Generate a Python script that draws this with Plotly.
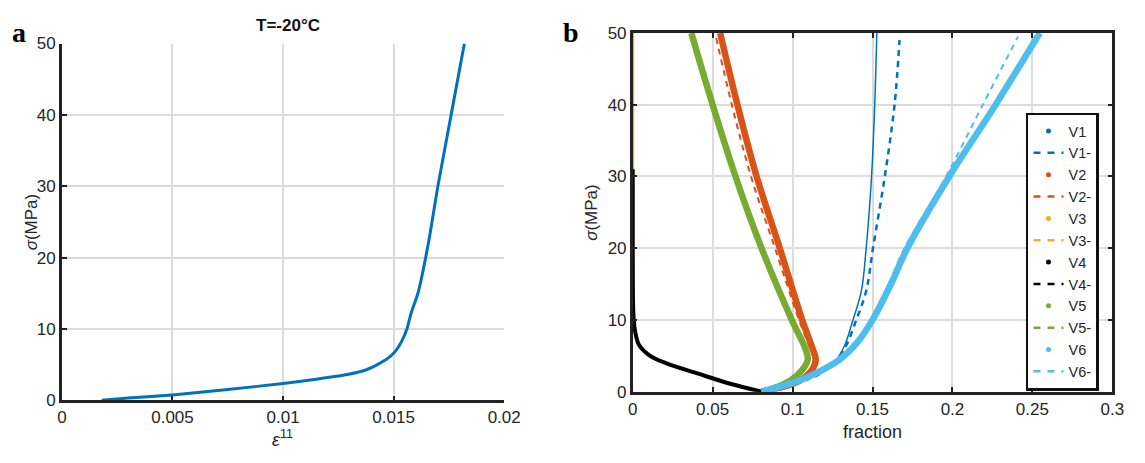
import plotly.graph_objects as go

W, H = 1145, 463

# ---------------- data ----------------
# panel a : stress-strain at T=-20°C
eps11 = [0.0018, 0.003, 0.005, 0.0075, 0.010, 0.0115, 0.0129, 0.0137, 0.0142, 0.0147, 0.0150,
         0.0152, 0.0154, 0.0156, 0.0158, 0.0161, 0.0166, 0.0170, 0.0176, 0.0182]
sigma_a = [0, 0.3, 0.75, 1.5, 2.35, 2.95, 3.6, 4.2, 4.9, 5.8, 6.6,
           7.4, 8.5, 10, 12.3, 15, 22.5, 30, 40, 50]

# panel b : volume fractions vs stress
v1_frac = [0.0806, 0.095, 0.108, 0.118, 0.1265, 0.1327, 0.1375, 0.1430, 0.1460, 0.1494, 0.1514, 0.1527]
v1_sig = [0, 0.8, 1.6, 2.6, 4.2, 6.5, 9.8, 14, 19.9, 30, 40, 50]
v1m_frac = [0.0806, 0.095, 0.108, 0.118, 0.127, 0.1337, 0.1395, 0.1460, 0.1503, 0.1577, 0.1638, 0.1669]
v1m_sig = [0, 0.8, 1.6, 2.6, 4.2, 6.5, 9.8, 14, 20, 30, 40, 49]

v2_frac = [0.0806, 0.096, 0.105, 0.112, 0.1145, 0.1125, 0.1060, 0.0920, 0.0775, 0.0655, 0.0547]
v2_sig = [0, 0.8, 1.6, 3, 4.5, 6, 10, 20, 30, 40, 50]
v2m_frac = [0.0806, 0.095, 0.104, 0.111, 0.113, 0.111, 0.104, 0.089, 0.074, 0.062, 0.052]
v2m_sig = [0, 0.8, 1.6, 3, 4.5, 6, 10, 20, 30, 40, 49.5]

v3_frac = [0.0806, 0.061, 0.041, 0.0204, 0.0102, 0.004, 0.0016, 0.0005, 0.0, 0.0]
v3_sig = [0, 1.1, 2.5, 4.0, 5.1, 6.5, 8.3, 10.5, 20, 50]
v4_frac = [0.0806, 0.061, 0.041, 0.0204, 0.0102, 0.004, 0.0016, 0.0005, 0.0, 0.0]
v4_sig = [0, 1.1, 2.5, 4.0, 5.1, 6.5, 8.3, 10.5, 20, 31]

v5_frac = [0.0806, 0.092, 0.099, 0.106, 0.1095, 0.108, 0.0995, 0.0806, 0.0643, 0.0500, 0.0367]
v5_sig = [0, 0.8, 1.6, 3, 4.5, 6, 10, 20, 30, 40, 50]

v6_frac = [0.0806, 0.097, 0.111, 0.129, 0.141, 0.150, 0.1616, 0.1718, 0.198, 0.227, 0.2546]
v6_sig = [0, 1, 2.2, 4.4, 7, 10, 15, 20, 30, 40, 50]
v6m_frac = [0.0806, 0.097, 0.111, 0.128, 0.140, 0.149, 0.160, 0.170, 0.196, 0.219, 0.241]
v6m_sig = [0, 1, 2.2, 4.4, 7, 10, 15, 20, 30, 40, 49.5]

xa_ticks = [0, 0.005, 0.01, 0.015, 0.02]
xa_ticklabels = ["0", "0.005", "0.01", "0.015", "0.02"]
xb_ticks = [0, 0.05, 0.1, 0.15, 0.2, 0.25, 0.3]
xb_ticklabels = ["0", "0.05", "0.1", "0.15", "0.2", "0.25", "0.3"]
y_ticks = [0, 10, 20, 30, 40, 50]

C1, C2, C3, C4, C5, C6 = "#0072BD", "#D95319", "#EDB120", "#000000", "#77AC30", "#4DBEEE"

# ---------------- figure ----------------
def px(x):
    return x / W

def py(y):
    return 1 - y / H

FONT = "Liberation Sans, Arial, sans-serif"
TICKC = "#262626"

fig = go.Figure()

fig.add_trace(go.Scatter(x=eps11, y=sigma_a, mode="lines",
                         line=dict(color=C1, width=3, shape="spline", smoothing=0.6),
                         xaxis="x", yaxis="y", showlegend=False))

series = [
    ("V1", v1_frac, v1_sig, C1, 1.5, False),
    ("V1-", v1m_frac, v1m_sig, C1, 2.5, True),
    ("V2", v2_frac, v2_sig, C2, 6.5, False),
    ("V2-", v2m_frac, v2m_sig, C2, 2, True),
    ("V3", v3_frac, v3_sig, C3, 3, False),
    ("V3-", v3_frac, v3_sig, C3, 2, True),
    ("V4", v4_frac, v4_sig, C4, 4, False),
    ("V4-", v4_frac, v4_sig, C4, 2, True),
    ("V5", v5_frac, v5_sig, C5, 6.5, False),
    ("V5-", v5_frac, v5_sig, C5, 2, True),
    ("V6", v6_frac, v6_sig, C6, 6.5, False),
    ("V6-", v6m_frac, v6m_sig, C6, 2, True),
]

for name, xs, ys, col, w, dashed in series:
    fig.add_trace(go.Scatter(x=xs, y=ys, mode="lines",
                             line=dict(color=col, width=w, dash="6px,5px" if dashed else "solid",
                                       shape="spline", smoothing=1.0),
                             xaxis="x2", yaxis="y2", showlegend=False, legendgroup=name))
    # legend entry
    if not dashed:
        fig.add_trace(go.Scatter(x=[None], y=[None], mode="markers", name=name,
                                 marker=dict(color=col, size=5), xaxis="x2", yaxis="y2",
                                 legendgroup=name, showlegend=True))
    else:
        fig.add_trace(go.Scatter(x=[None], y=[None], mode="lines", name=name,
                                 line=dict(color=col, width=2.5, dash="7px,7px"), xaxis="x2", yaxis="y2",
                                 legendgroup=name, showlegend=True))

axis_common = dict(
    showgrid=True, gridcolor="#dcdcdc", gridwidth=1.5,
    showline=True, linecolor="#222222", linewidth=2.5,
    ticks="inside", ticklen=5, tickwidth=2, tickcolor="#222222",
    tickfont=dict(family=FONT, size=17, color=TICKC),
    zeroline=False,
)

fig.update_layout(
    width=W, height=H, autosize=False,
    margin=dict(l=0, r=0, t=0, b=0),
    paper_bgcolor="white", plot_bgcolor="white",
    font=dict(family=FONT, color=TICKC),
    xaxis=dict(domain=[px(58), px(509)], range=[0, 0.02], tickvals=xa_ticks,
               ticktext=xa_ticklabels, anchor="y", **axis_common),
    yaxis=dict(domain=[py(408), py(36)], range=[0, 50], tickvals=y_ticks, anchor="x",
               **axis_common),
    xaxis2=dict(domain=[px(640), px(1129)], range=[0, 0.3], tickvals=xb_ticks,
                ticktext=xb_ticklabels, anchor="y2", mirror="ticks", **axis_common),
    yaxis2=dict(domain=[py(399), py(25)], range=[0, 50], tickvals=y_ticks, anchor="x2",
                mirror="ticks", **axis_common),
    legend=dict(x=px(1041), y=py(108), xanchor="left", yanchor="top",
                bordercolor="#111111", borderwidth=2.5, bgcolor="white",
                font=dict(family=FONT, size=14.5, color=TICKC),
                traceorder="normal", itemwidth=30, maxheight=420),
)

ann = [
    dict(text="<b>T=-20°C</b>", x=px(289), y=py(17), font=dict(family=FONT, size=17, color="#111111")),
    dict(text="<b>a</b>", x=px(14), y=py(24), font=dict(family="Liberation Serif, Times New Roman, serif", size=28, color="black")),
    dict(text="<b>b</b>", x=px(577), y=py(24), font=dict(family="Liberation Serif, Times New Roman, serif", size=28, color="black")),
    dict(text="<i>σ</i>(MPa)", x=px(27), y=py(222), textangle=-90, font=dict(family=FONT, size=17, color=TICKC)),
    dict(text="<i>σ</i>(MPa)", x=px(598), y=py(212), textangle=-90, font=dict(family=FONT, size=17, color=TICKC)),
    dict(text="fraction", x=px(885), y=py(441), font=dict(family=FONT, size=18, color=TICKC)),
]
for a in ann:
    a.update(xref="paper", yref="paper", showarrow=False, xanchor="center", yanchor="middle")
ann.append(dict(text="<i>ε</i><sup>11</sup>", x=px(283), y=py(462), xref="paper", yref="paper",
                showarrow=False, xanchor="center", yanchor="bottom",
                font=dict(family=FONT, size=18, color=TICKC)))
fig.update_layout(annotations=ann)

fig.write_html("out.html")
